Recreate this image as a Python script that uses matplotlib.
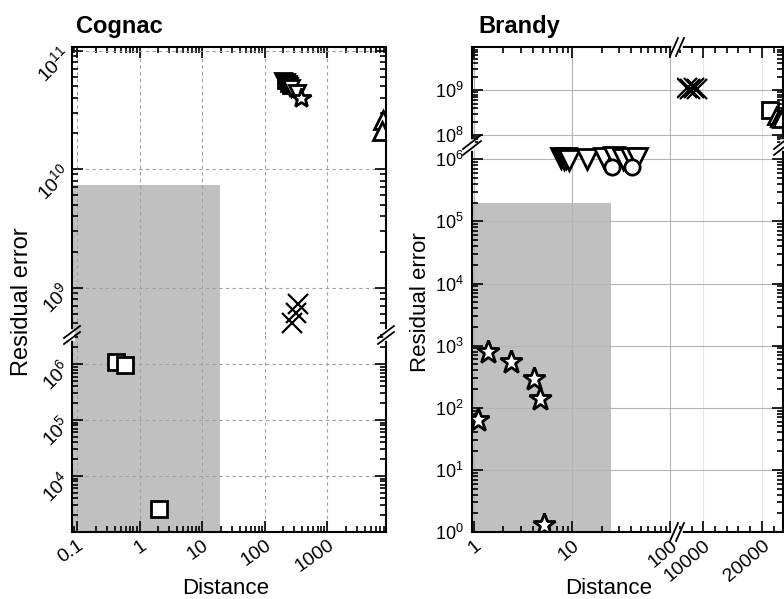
import numpy as np
import matplotlib.pyplot as plt
from matplotlib.lines import Line2D
from matplotlib.ticker import LogLocator, FuncFormatter, FixedLocator, MultipleLocator, NullFormatter

plt.rcParams['font.family'] = ['Liberation Sans', 'DejaVu Sans']
plt.rcParams['mathtext.fontset'] = 'custom'
plt.rcParams['mathtext.rm'] = 'Liberation Sans'
plt.rcParams['mathtext.it'] = 'Liberation Sans:italic'

# ---- data ----
# Cognac
cog_sq_x = [0.42, 0.59, 2.05]
cog_sq_y = [1.09e6, 0.96e6, 2.6e3]
cog_x_x = [270, 316, 345]
cog_x_y = [5.0e8, 6.1e8, 7.3e8]
cog_dn_x = [200, 210, 220, 232, 245, 260, 330]
cog_dn_y = [5.5e10, 5.3e10, 5.4e10, 5.2e10, 5.0e10, 4.8e10, 4.4e10]
cog_sqb_x = [205, 225, 245]
cog_sqb_y = [5.4e10, 5.1e10, 4.9e10]
cog_st_x = [385]
cog_st_y = [4.0e10]
cog_up_x = [7900, 7400]
cog_up_y = [2.6e10, 2.1e10]
cog_shade = [19.5, 7.4e9]

# Brandy
brd_st_x = [1.1, 1.39, 2.38, 4.1, 4.7, 5.2]
brd_st_y = [64, 800, 540, 290, 140, 1.3]
brd_dn_x = [7.8, 8.2, 8.7, 9.3, 14.2, 21.0, 27.0, 33.0, 40.0, 46.0]
brd_dn_y = [1.05e6, 1.0e6, 1.04e6, 0.98e6, 1.0e6, 1.05e6, 1.08e6, 1.02e6, 1.06e6, 1.04e6]
brd_ci_x = [25.7, 41.0]
brd_ci_y = [7.4e5, 7.4e5]
brd_x_x = [7200, 7800, 8400, 9000]
brd_x_y = [1.1e9, 1.05e9, 1.12e9, 1.07e9]
brd_sq_x = [21400]
brd_sq_y = [3.6e8]
brd_up_x = [22400, 22900, 23300]
brd_up_y = [2.6e8, 2.4e8, 2.3e8]
brd_shade = [25, 2.0e5]

W, H = 784, 599
fig = plt.figure(figsize=(W / 100, H / 100), dpi=100)


def box(l, t, r, b):
    return [l / W, 1 - b / H, (r - l) / W, (b - t) / H]


def pow_fmt(v, pos):
    return '$10^{%d}$' % int(round(np.log10(v)))


def plain_fmt(v, pos):
    return ('%g' % v)


mk = dict(ls='none', mfc='white', mec='black', mew=2, ms=11)


def style(ax, grid_ls, grid_c):
    for s in ax.spines.values():
        s.set_linewidth(1.5)
    ax.tick_params(which='both', direction='in', top=True, right=True, width=1.2)
    ax.tick_params(axis='y', labelsize=14)
    ax.tick_params(axis='x', labelsize=14)
    ax.tick_params(which='major', length=8)
    ax.tick_params(which='minor', length=4)
    ax.grid(True, which='major', ls=grid_ls, color=grid_c, lw=0.8)


def line_px(xs, ys, **kw):
    fig.add_artist(Line2D([x / W for x in xs], [1 - y / H for y in ys],
                          transform=fig.transFigure, **kw))


def break_v(x, y, ln=8, h=6):
    # break on a vertical spine
    line_px([x, x], [y - 3, y + 3], color='white', lw=4)
    for o in (-3, 3):
        line_px([x - ln, x + ln], [y + h + o, y - h + o], color='black', lw=1.3)


def break_h(x, y, ln=4, h=9):
    # break on a horizontal spine
    line_px([x - 3, x + 3], [y, y], color='white', lw=4)
    for o in (-3, 3):
        line_px([x - ln + o, x + ln + o], [y + h, y - h], color='black', lw=1.3)


# ================= Cognac =================
cxlim = (10 ** -1.08, 10 ** 3.94)
axU = fig.add_axes(box(72, 47, 386, 335))
axL = fig.add_axes(box(72, 335, 386, 532))
axU.set_ylim(10 ** 8.6, 10 ** 11.03)
axL.set_ylim(1e3, 10 ** 6.52)
for ax in (axU, axL):
    ax.set_xscale('log')
    ax.set_yscale('log')
    ax.set_xlim(*cxlim)
    ax.xaxis.set_major_locator(LogLocator(base=10, numticks=20))
    ax.xaxis.set_minor_locator(LogLocator(base=10, subs=np.arange(2, 10), numticks=20))
    ax.yaxis.set_minor_locator(LogLocator(base=10, subs=np.arange(2, 10), numticks=20))
    ax.xaxis.set_minor_formatter(NullFormatter())
    ax.yaxis.set_minor_formatter(NullFormatter())
    ax.yaxis.set_major_formatter(FuncFormatter(pow_fmt))
    style(ax, (0, (3, 3)), '#a0a0a0')
    ax.fill_between([1e-3, cog_shade[0]], 1e-3, cog_shade[1], color='#c0c0c0', lw=0, zorder=0.5)
    ax.plot(cog_sq_x, cog_sq_y, marker='s', **mk)
    ax.plot(cog_x_x, cog_x_y, marker='x', ls='none', color='black', mew=1.6, ms=15)
    ax.plot(cog_sqb_x, cog_sqb_y, marker='s', **{**mk, 'ms': 9})
    ax.plot(cog_dn_x, cog_dn_y, marker='v', **mk)
    ax.plot(cog_st_x, cog_st_y, marker='*', **{**mk, 'ms': 15})
    ax.plot(cog_up_x, cog_up_y, marker='^', **{**mk, 'ms': 13})
axU.yaxis.set_major_locator(FixedLocator([1e9, 1e10, 1e11]))
axL.yaxis.set_major_locator(FixedLocator([1e4, 1e5, 1e6]))
for ax in (axU, axL):
    for lab in ax.get_yticklabels():
        lab.set_rotation(45)
        lab.set_rotation_mode('anchor')
        lab.set_ha('right')
        lab.set_va('center')
axU.spines['bottom'].set_visible(False)
axL.spines['top'].set_visible(False)
axU.tick_params(which='both', bottom=False, labelbottom=False)
axL.tick_params(which='both', top=False)
axL.xaxis.set_major_formatter(FuncFormatter(plain_fmt))
for lab in axL.get_xticklabels():
    lab.set_rotation(35)
    lab.set_rotation_mode('anchor')
    lab.set_ha('right')
    lab.set_va('top')
break_v(72, 335)
break_v(386, 335)
fig.text(76 / W, 1 - 26 / H, 'Cognac', fontsize=17, fontweight='bold', va='center')
fig.text(22 / W, 1 - 302 / H, 'Residual error', fontsize=17, rotation=90, ha='center', va='center')
fig.text(226 / W, 1 - 594 / H, 'Distance', fontsize=16, ha='center', va='baseline')

# ================= Brandy =================
bl_xlim = (10 ** -0.02, 10 ** 2.07)
br_xlim = (5520, 23620)
b_up_ylim = (10 ** 7.78, 10 ** 9.96)
b_lo_ylim = (1, 10 ** 6.23)
axUL = fig.add_axes(box(472, 47, 677, 145))
axUR = fig.add_axes(box(677, 47, 783, 145))
axLL = fig.add_axes(box(472, 145, 677, 532))
axLR = fig.add_axes(box(677, 145, 783, 532))
for ax, xl, yl in ((axUL, bl_xlim, b_up_ylim), (axUR, br_xlim, b_up_ylim),
                   (axLL, bl_xlim, b_lo_ylim), (axLR, br_xlim, b_lo_ylim)):
    ax.set_yscale('log')
    if xl is bl_xlim:
        ax.set_xscale('log')
        ax.xaxis.set_major_locator(LogLocator(base=10, numticks=20))
        ax.xaxis.set_minor_locator(LogLocator(base=10, subs=np.arange(2, 10), numticks=20))
    else:
        ax.xaxis.set_major_locator(FixedLocator([10000, 20000]))
        ax.xaxis.set_minor_locator(MultipleLocator(2000))
    ax.set_xlim(*xl)
    ax.set_ylim(*yl)
    ax.yaxis.set_major_locator(LogLocator(base=10, numticks=20))
    ax.yaxis.set_minor_locator(LogLocator(base=10, subs=np.arange(2, 10), numticks=20))
    ax.xaxis.set_minor_formatter(NullFormatter())
    ax.yaxis.set_minor_formatter(NullFormatter())
    ax.yaxis.set_major_formatter(FuncFormatter(pow_fmt))
    ax.xaxis.set_major_formatter(FuncFormatter(plain_fmt))
    style(ax, '-', '#b4b4b4')
    ax.tick_params(axis='y', pad=6, labelsize=13)
    ax.fill_between([0.5, brd_shade[0]], 0.1, brd_shade[1], color='#c0c0c0', lw=0, zorder=0.5)
    ax.plot(brd_st_x, brd_st_y, marker='*', **{**mk, 'ms': 17})
    ax.plot(brd_dn_x, brd_dn_y, marker='v', **{**mk, 'ms': 14})
    ax.plot(brd_ci_x, brd_ci_y, marker='o', **mk)
    ax.plot(brd_x_x, brd_x_y, marker='x', ls='none', color='black', mew=1.6, ms=15)
    ax.plot(brd_sq_x, brd_sq_y, marker='s', **mk)
    ax.plot(brd_up_x, brd_up_y, marker='^', **mk)

for ax in (axUL, axUR):
    ax.spines['bottom'].set_visible(False)
    ax.tick_params(which='both', bottom=False, labelbottom=False)
for ax in (axLL, axLR):
    ax.spines['top'].set_visible(False)
    ax.tick_params(which='both', top=False)
for ax in (axUL, axLL):
    ax.spines['right'].set_visible(False)
    ax.tick_params(which='both', right=False)
for ax in (axUR, axLR):
    ax.spines['left'].set_visible(False)
    ax.tick_params(which='both', left=False, labelleft=False)
    ax.grid(True, axis='x', color='#e6e6e6')
for lab in axLL.get_xticklabels() + axLR.get_xticklabels():
    lab.set_rotation(40)
    lab.set_rotation_mode('anchor')
    lab.set_ha('right')
    lab.set_va('top')
break_v(472, 145, ln=9, h=7)
break_v(783, 145, ln=9, h=7)
break_h(677, 47)
break_h(677, 532)
fig.text(478 / W, 1 - 26 / H, 'Brandy', fontsize=17, fontweight='bold', va='center')
fig.text(421 / W, 1 - 302 / H, 'Residual error', fontsize=16, rotation=90, ha='center', va='center')
fig.text(609 / W, 1 - 594 / H, 'Distance', fontsize=16, ha='center', va='baseline')

fig.savefig('out.png', dpi=100)
